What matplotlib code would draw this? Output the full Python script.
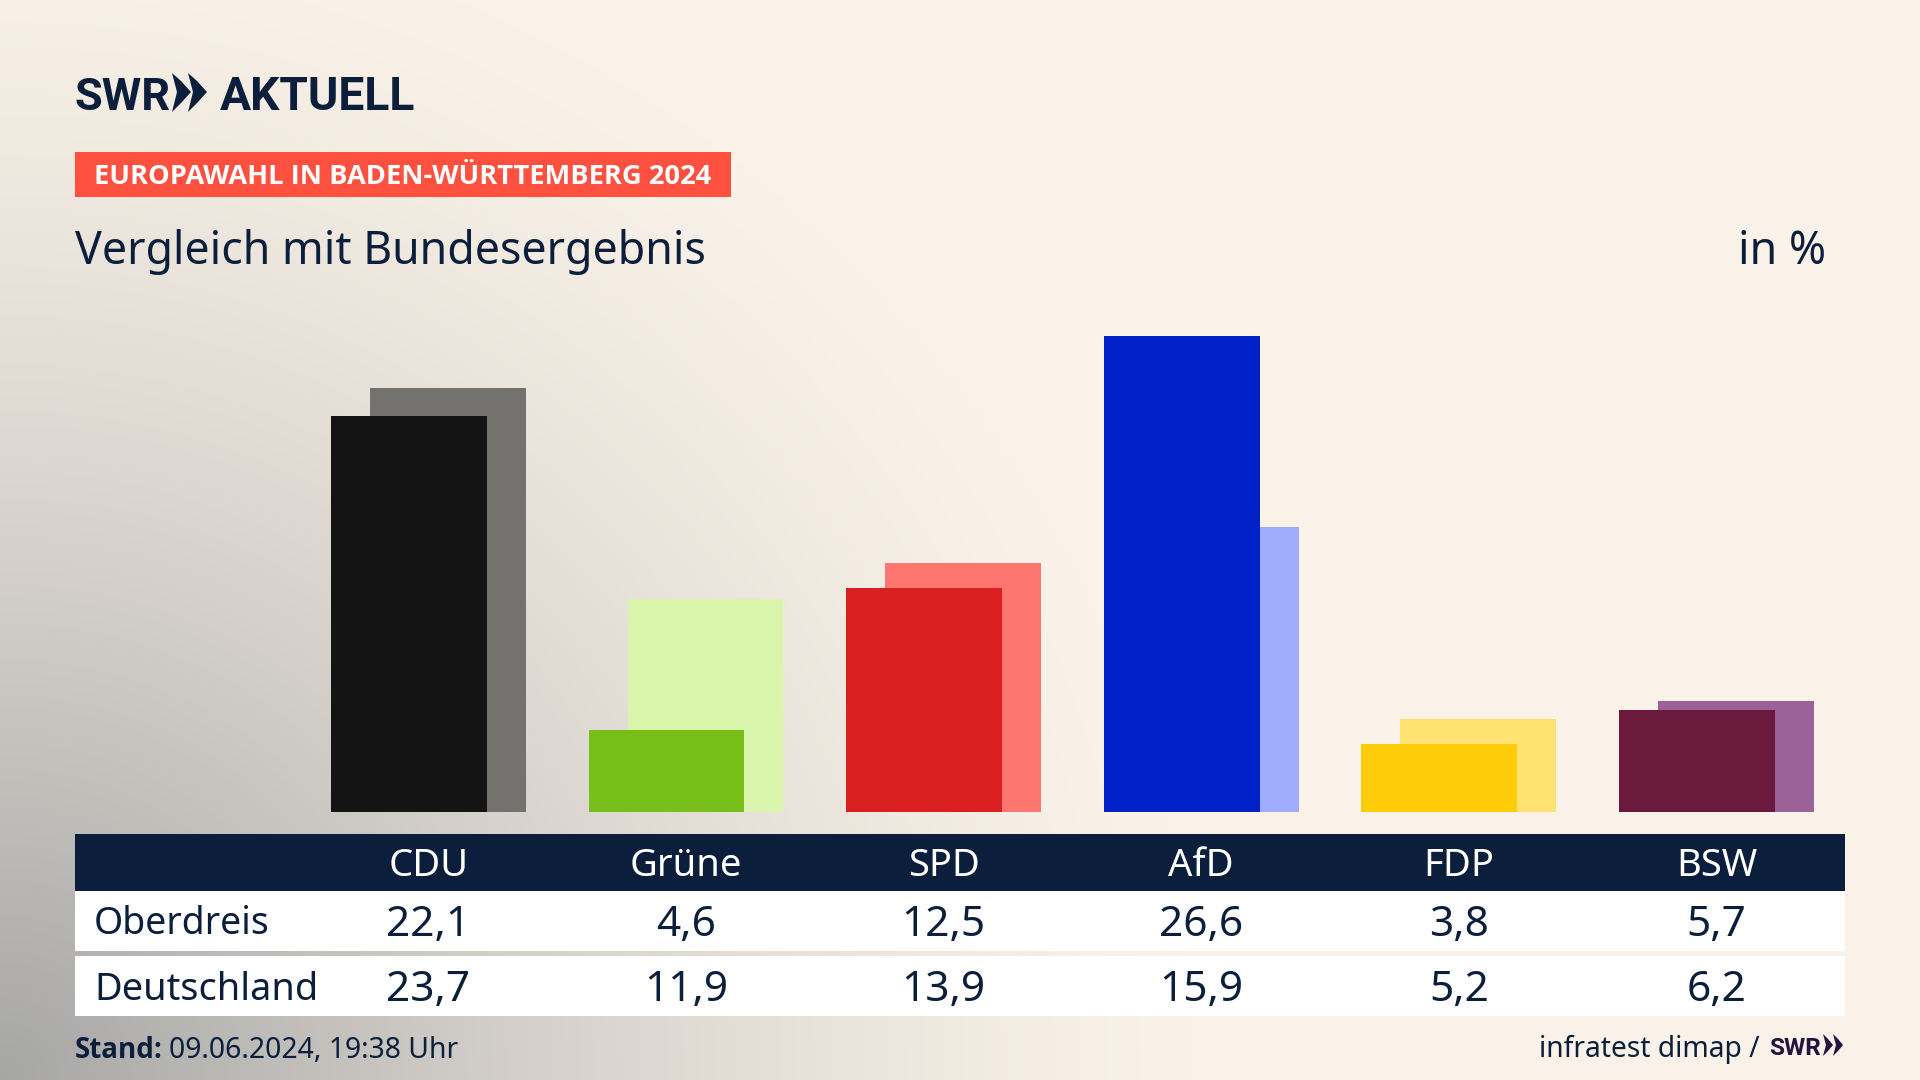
import numpy as np
import matplotlib
matplotlib.use('Agg')
import matplotlib.pyplot as plt
from matplotlib.patches import Polygon, Rectangle

parteien = ['CDU', 'Grüne', 'SPD', 'AfD', 'FDP', 'BSW']
oberdreis = [22.1, 4.6, 12.5, 26.6, 3.8, 5.7]
deutschland = [23.7, 11.9, 13.9, 15.9, 5.2, 6.2]
farben = ['#141414', '#78BE18', '#D91F1F', '#0021C8', '#FFCC0A', '#6B1A3E']
farben_hell = ['#73726F', '#D8F5AB', '#FF7570', '#A0ADFF', '#FFE272', '#9B6199']

NAVY = '#0B1F3D'
FETT = ['Open Sans', 'DejaVu Sans']
LOGO = ['Roboto', 'Open Sans', 'DejaVu Sans']
W, H = 1920, 1080

plt.rcParams['font.family'] = ['Noto Sans', 'DejaVu Sans']
fig = plt.figure(figsize=(19.2, 10.8), dpi=100)

# Hintergrund: grauer Verlauf aus der Ecke unten links
bg = fig.add_axes([0, 0, 1, 1], zorder=0)
xx, yy = np.meshgrid(np.linspace(0, 1, 480), np.linspace(0, 1, 270))
d = np.sqrt((xx / 0.62) ** 2 + (yy / 1.08) ** 2)
t = np.clip(1 - d, 0, 1) ** 1.35
t = t[..., None]
creme = np.array([250, 242, 232]) / 255
grau = np.array([166, 166, 165]) / 255
bg.imshow(creme * (1 - t) + grau * t, extent=[0, 1, 0, 1], origin='lower',
          aspect='auto', interpolation='bilinear')
bg.axis('off')

# Ebene in Pixeln fuer Tabelle und Texte
px = fig.add_axes([0, 0, 1, 1], zorder=1)
px.set_xlim(0, W)
px.set_ylim(H, 0)
px.axis('off')

# Balken
left, right, base, top = 75, 1845, 812, 250
step = 257.6
mitte = 428.4
ax = fig.add_axes([left / W, 1 - base / H, (right - left) / W, (base - top) / H], zorder=2)
ax.patch.set_alpha(0)
ax.set_xlim((left - mitte) / step, (right - mitte) / step)
ax.set_ylim(0, (base - top) / 17.9)
ax.axis('off')
x = np.arange(len(parteien))
ax.bar(x + 0.0756, deutschland, width=0.605, color=farben_hell)
ax.bar(x - 0.0756, oberdreis, width=0.605, color=farben)

# Tabelle
px.add_patch(Rectangle((75, 834), 1770, 57, color=NAVY, lw=0))
px.add_patch(Rectangle((75, 891), 1770, 60, color='white', lw=0))
px.add_patch(Rectangle((75, 956), 1770, 60, color='white', lw=0))
px.text(94, 924, 'Oberdreis', fontsize=27, color=NAVY, va='center')
px.text(94, 990, 'Deutschland', fontsize=27.3, color=NAVY, va='center')
for i, p in enumerate(parteien):
    cx = mitte + i * step
    px.text(cx, 866, p, fontsize=27.5, color='white', ha='center', va='center')
    px.text(cx, 925, f'{oberdreis[i]:.1f}'.replace('.', ','), fontsize=30.5, color=NAVY, ha='center', va='center')
    px.text(cx, 990, f'{deutschland[i]:.1f}'.replace('.', ','), fontsize=30.5, color=NAVY, ha='center', va='center')

# Kopf
px.text(75, 110, 'SWR', fontsize=32.5, fontweight='bold', family=LOGO, color=NAVY, va='baseline')
for x0 in (172, 188):
    px.add_patch(Polygon([(x0, 73), (x0 + 9, 81), (x0 + 19, 92), (x0 + 9, 103), (x0, 112), (x0 + 5, 92)],
                         color=NAVY, lw=0))
px.text(220, 110, 'AKTUELL', fontsize=33.3, fontweight='bold', family=LOGO, color=NAVY, va='baseline')
px.add_patch(Rectangle((75, 152), 656, 45, color='#FF5040', lw=0))
px.text(94, 177, 'EUROPAWAHL IN BADEN-WÜRTTEMBERG 2024', fontsize=19.6, fontweight='bold', family=FETT,
        color='white', va='center')
px.text(75, 252, 'Vergleich mit Bundesergebnis', fontsize=32.2, color=NAVY, va='center')
px.text(1826, 252, 'in %', fontsize=32.2, color=NAVY, ha='right', va='center')

# Fuss
px.text(75, 1050, 'Stand:', fontsize=20, fontweight='bold', family=FETT, color=NAVY, va='center')
px.text(169, 1050, '09.06.2024, 19:38 Uhr', fontsize=20.4, color=NAVY, va='center')
px.text(1760, 1049, 'infratest dimap /', fontsize=20.3, color=NAVY, ha='right', va='center')
px.text(1769, 1055, 'SWR', fontsize=17.5, fontweight='bold', family=LOGO, color='#24123F', va='baseline')
for x0 in (1823, 1833):
    px.add_patch(Polygon([(x0, 1034), (x0 + 5, 1039), (x0 + 10, 1045), (x0 + 5, 1051), (x0, 1056), (x0 + 3, 1045)],
                         color='#24123F', lw=0))

fig.savefig('out.png', dpi=100)
